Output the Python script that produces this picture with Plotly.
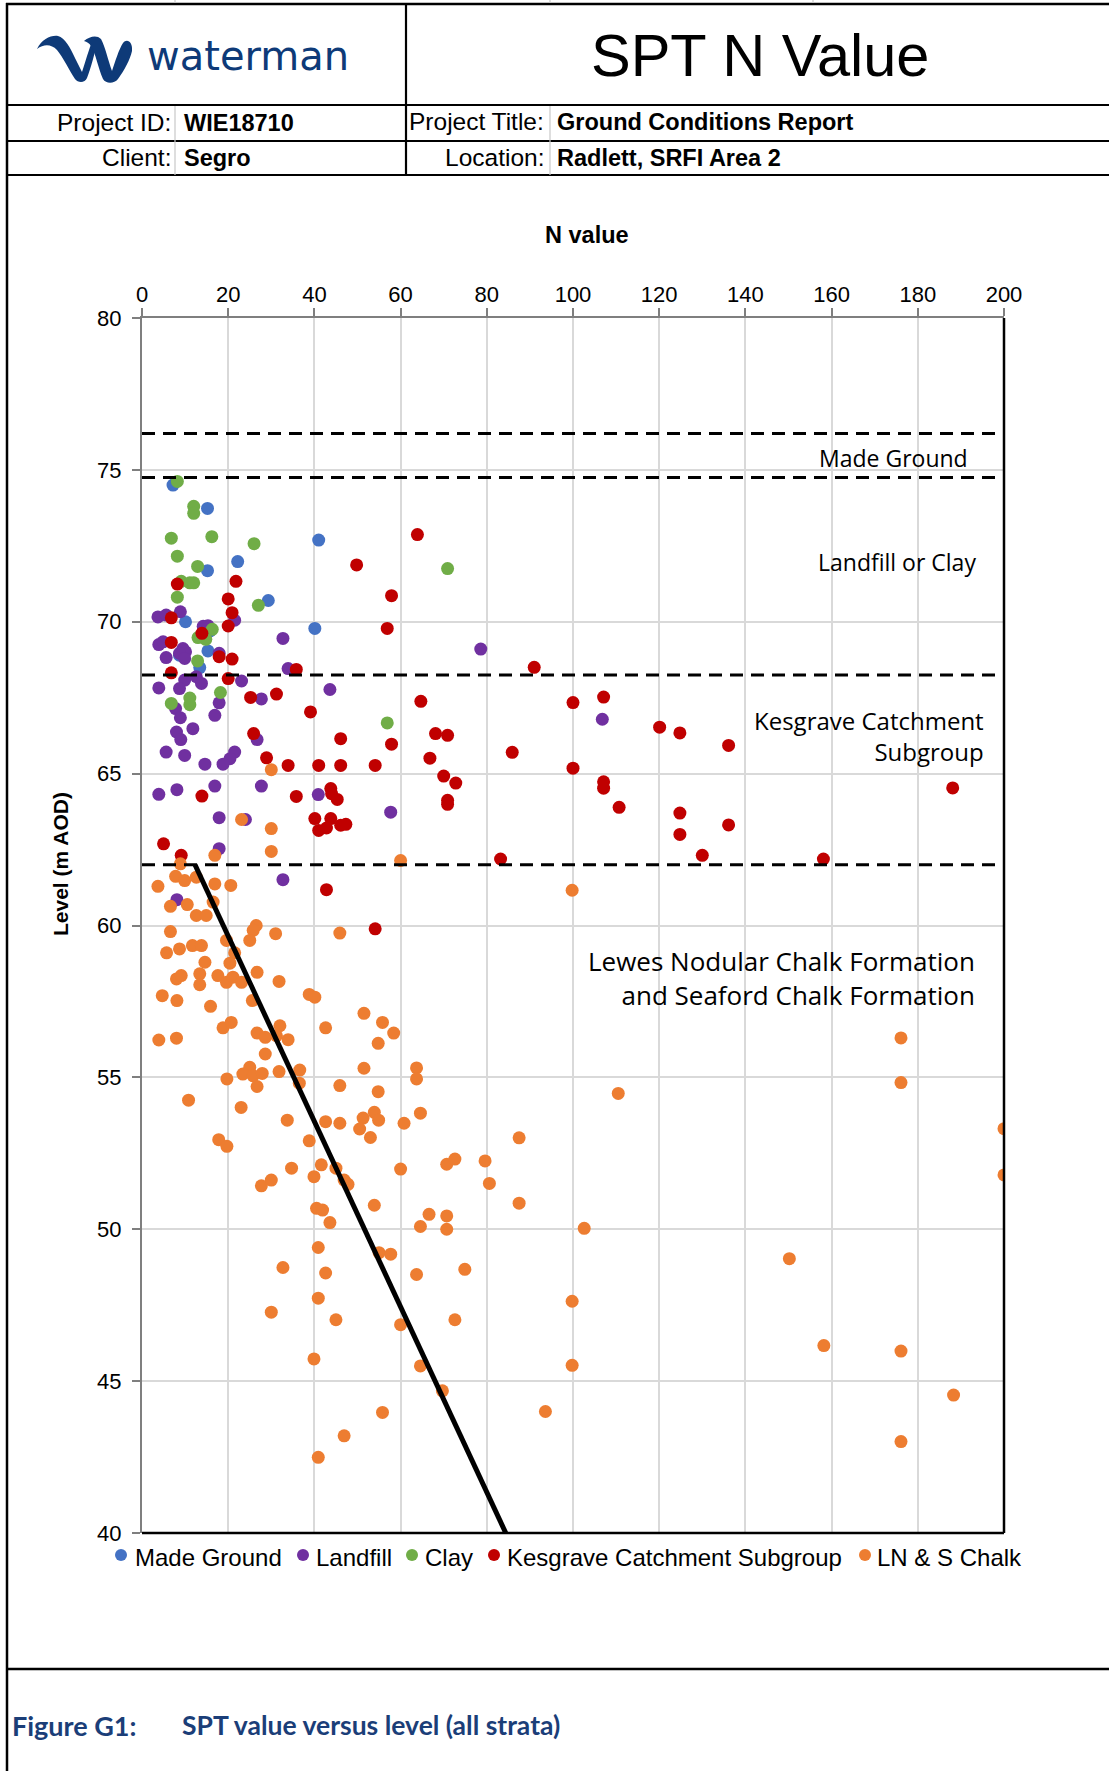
import plotly.graph_objects as go

# ---------------- DATA ----------------
made_ground_n = [7.2, 15.2, 41.0, 15.2, 22.2, 29.3, 10.1, 40.1, 15.8, 15.3, 8.7, 13.4]
made_ground_lvl = [74.50, 73.73, 72.69, 71.68, 71.98, 70.70, 70.00, 69.78, 69.70, 69.04, 68.90, 68.49]

landfill_n = [3.7, 5.6, 8.9, 21.5, 14.2, 15.3, 32.7, 78.6, 3.9, 4.9, 9.5, 10.1, 8.7, 17.9, 5.6,
              9.9, 33.9, 9.9, 12.6, 13.8, 8.7, 23.1, 3.9, 43.6, 27.7, 17.9, 7.8, 16.9, 8.9, 106.8,
              8.0, 9.0, 11.8, 26.7, 5.6, 9.9, 21.5, 20.4, 18.8, 14.6, 3.9, 8.1, 16.9, 27.7, 40.9,
              17.9, 24.0, 57.7, 17.9, 32.7, 8.1]
landfill_lvl = [70.16, 70.22, 70.33, 70.05, 69.85, 69.87, 69.45, 69.10, 69.25, 69.34, 69.12, 69.01, 68.96, 68.96, 68.82,
                68.79, 68.46, 68.08, 68.19, 67.97, 67.80, 68.05, 67.82, 67.77, 67.46, 67.33, 67.14, 66.92, 66.84, 66.79,
                66.37, 66.12, 66.48, 66.12, 65.71, 65.60, 65.71, 65.49, 65.31, 65.31, 64.32, 64.47, 64.59, 64.59, 64.31,
                63.55, 63.49, 63.73, 62.53, 61.51, 60.85]

clay_n = [8.2, 12.0, 12.0, 6.8, 16.2, 26.0, 8.2, 12.9, 70.9, 9.1, 11.1, 12.0, 8.2, 27.0, 16.3,
          13.0, 14.8, 12.9, 18.2, 11.1, 11.1, 6.8, 56.9]
clay_lvl = [74.62, 73.80, 73.57, 72.75, 72.80, 72.57, 72.16, 71.82, 71.75, 71.33, 71.28, 71.28, 70.81, 70.54, 69.75,
            69.48, 69.42, 68.71, 67.67, 67.49, 67.27, 67.31, 66.67]

kesgrave_n = [63.9, 49.8, 8.2, 21.8, 57.9, 20.0, 20.9, 6.8, 20.0, 56.9, 13.9, 6.8, 17.9, 20.9, 35.8,
              6.8, 20.0, 25.2, 31.2, 39.1, 64.7, 25.9, 46.1, 68.1, 70.9, 57.9, 28.9, 33.9, 41.0, 46.1,
              54.1, 66.8, 70.0, 72.8, 70.9, 70.9, 13.9, 35.8, 43.8, 44.0, 45.3, 40.1, 43.8, 41.0, 42.8,
              46.1, 47.3, 5.0, 9.1, 42.8, 54.1, 91.0, 100.0, 107.1, 120.1, 124.8, 136.1, 85.9, 100.0, 107.1,
              107.1, 110.7, 124.8, 136.1, 124.8, 130.0, 158.1, 83.2, 188.1]
kesgrave_lvl = [72.87, 71.87, 71.24, 71.33, 70.86, 70.75, 70.30, 70.13, 69.86, 69.78, 69.62, 69.32, 68.85, 68.77, 68.43,
                68.32, 68.13, 67.51, 67.62, 67.03, 67.38, 66.32, 66.15, 66.32, 66.26, 65.97, 65.52, 65.27, 65.27, 65.27,
                65.27, 65.51, 64.92, 64.69, 64.12, 63.99, 64.26, 64.25, 64.51, 64.34, 64.15, 63.52, 63.52, 63.13, 63.21,
                63.30, 63.33, 62.69, 62.31, 61.18, 59.89, 68.50, 67.34, 67.52, 66.53, 66.34, 65.93, 65.70, 65.18, 64.73,
                64.52, 63.89, 63.70, 63.31, 63.00, 62.31, 62.19, 62.19, 64.53]

chalk_n = [30.0, 23.1, 30.0, 16.9, 30.0, 60.0, 8.9, 7.8, 9.9, 12.6, 16.9, 20.6, 3.7, 6.6, 10.5,
           16.5, 12.6, 14.9, 6.6, 45.9, 26.5, 25.8, 31.0, 99.8,
           19.6, 25.0, 5.7, 8.7, 11.7, 13.8, 21.5, 20.4, 14.6, 26.7, 13.4, 13.4, 8.0, 9.1, 17.6,
           19.6, 21.1, 23.1, 31.8, 4.7, 8.1, 38.8, 40.1, 25.6, 15.9, 51.5, 55.8, 58.4, 54.8, 42.6,
           18.8, 20.7, 32.0, 26.7, 28.6, 33.9, 31.2, 3.9, 8.0, 28.6, 25.0, 23.4, 25.8, 27.9, 26.7,
           31.8, 36.6, 36.5, 19.7, 51.5, 63.7, 63.7, 45.9, 54.8, 10.8, 23.0, 64.6, 53.9, 51.3, 54.9,
           33.7, 42.6, 45.9, 60.8, 50.5, 53.0, 38.8, 17.8, 19.7, 70.7, 72.6, 79.6, 80.6, 41.6, 45.0,
           34.7, 39.9, 46.9, 47.8, 60.0, 27.7, 30.0, 40.5, 41.9, 53.9, 43.6, 66.6, 70.7, 70.7,
           64.6, 40.9, 55.0, 57.7,
           87.5, 87.5, 176.1, 176.1, 110.5, 200.0, 200.0, 102.6, 150.2, 99.8, 158.2, 176.1, 99.8,
           188.3, 93.6, 176.1,
           32.7, 42.6, 63.7, 74.9, 40.9, 30.0, 45.0, 60.0, 72.6, 39.9, 64.6, 69.7, 55.8, 46.9, 40.9]
chalk_lvl = [65.13, 63.49, 63.19, 62.31, 62.44, 62.14, 62.03, 61.62, 61.48, 61.59, 61.37, 61.32, 61.29, 60.63, 60.69,
             60.77, 60.33, 60.33, 59.80, 59.75, 60.00, 59.84, 59.73, 61.16,
             59.51, 59.51, 59.10, 59.23, 59.34, 59.34, 59.10, 58.76, 58.79, 58.46, 58.41, 58.05, 58.24, 58.35, 58.35,
             58.13, 58.30, 58.13, 58.16, 57.69, 57.53, 57.73, 57.64, 57.53, 57.34, 57.11, 56.81, 56.46, 56.12, 56.63,
             56.63, 56.81, 56.70, 56.46, 56.32, 56.24, 56.37, 56.23, 56.29, 55.77, 55.33, 55.11, 55.05, 55.13, 54.70,
             55.19, 55.24, 54.81, 54.95, 55.30, 55.31, 54.95, 54.73, 54.53, 54.25, 54.01, 53.82, 53.85, 53.66, 53.59,
             53.59, 53.54, 53.49, 53.49, 53.30, 53.02, 52.91, 52.95, 52.73, 52.14, 52.31, 52.25, 51.51, 52.12, 52.01,
             52.01, 51.73, 51.62, 51.48, 51.98, 51.43, 51.62, 50.69, 50.63, 50.79, 50.22, 50.49, 50.44, 50.00,
             50.09, 49.40, 49.23, 49.18,
             53.01, 50.86, 56.30, 54.83, 54.47, 53.31, 51.79, 50.03, 49.03, 47.63, 46.17, 45.99, 45.52,
             44.54, 44.00, 43.01,
             48.74, 48.56, 48.51, 48.68, 47.73, 47.27, 47.02, 46.86, 47.02, 45.73, 45.50, 44.68, 43.97, 43.20, 42.49]

trend_n = [12.3, 84.4]
trend_lvl = [62.0, 40.0]

strata_boundaries = [76.2, 74.75, 68.25, 62.0]

series_names = ["Made Ground", "Landfill", "Clay", "Kesgrave Catchment Subgroup", "LN & S Chalk"]
series_colors = ["#4472C4", "#7030A0", "#70AD47", "#C00000", "#ED7D31"]
series_x = [made_ground_n, landfill_n, clay_n, kesgrave_n, chalk_n]
series_y = [made_ground_lvl, landfill_lvl, clay_lvl, kesgrave_lvl, chalk_lvl]

x_ticks = list(range(0, 201, 20))
y_ticks = list(range(40, 81, 5))

# ---------------- LAYOUT GEOMETRY ----------------
W, H = 1109, 1771
LM, RM, TM, BM = 142, 105, 318, 238
PW = W - LM - RM
PH = H - TM - BM


def px(x):
    return (x - LM) / PW


def py(y):
    return (H - BM - y) / PH


ARIAL = "Liberation Sans, Arial, sans-serif"
OPEN = "Open Sans, sans-serif"
NAVY = "#1B3E78"

fig = go.Figure()

for name, col, xs, ys in zip(series_names, series_colors, series_x, series_y):
    fig.add_trace(go.Scatter(x=xs, y=ys, mode="markers", name=name, showlegend=False,
                             marker=dict(size=13, color=col, line=dict(width=0))))

for b in strata_boundaries:
    fig.add_trace(go.Scatter(x=[0, 200], y=[b, b], mode="lines", showlegend=False,
                             line=dict(color="black", width=3, dash="13px,8px"), hoverinfo="skip"))

fig.add_trace(go.Scatter(x=trend_n, y=trend_lvl, mode="lines", showlegend=False,
                         line=dict(color="black", width=5), hoverinfo="skip"))

shapes = []


def hline(y, x0, x1, color="black", width=2.5):
    shapes.append(dict(type="line", xref="paper", yref="paper", x0=px(x0), x1=px(x1), y0=py(y), y1=py(y),
                       line=dict(color=color, width=width)))


def vline(x, y0, y1, color="black", width=2.5):
    shapes.append(dict(type="line", xref="paper", yref="paper", x0=px(x), x1=px(x), y0=py(y0), y1=py(y1),
                       line=dict(color=color, width=width)))


# header frame
hline(4, 6, W)
vline(7, 3, H)
vline(406, 4, 175, width=2.2)
hline(105, 6, W, width=2.2)
hline(141, 6, W, width=2.2)
hline(175, 6, W, width=2.2)
vline(175, 106, 175, color="#C8C8C8", width=1.2)
vline(550, 106, 175, color="#C8C8C8", width=1.2)
for xx in [175, 550, 813]:
    vline(xx, 0, 3, color="#C8C8C8", width=1.2)
# footer
hline(1669, 6, W, width=2.5)

# plot frame: right & bottom black
shapes.append(dict(type="line", xref="paper", yref="paper", x0=1, x1=1, y0=0, y1=1,
                   line=dict(color="black", width=2.5)))
shapes.append(dict(type="line", xref="paper", yref="paper", x0=0, x1=1, y0=0, y1=0,
                   line=dict(color="black", width=2.5)))


def path_from(cmds):
    out = []
    for c, pts in cmds:
        s = c
        for (x, y) in pts:
            s += " %.5f,%.5f" % (px(x), py(y))
        out.append(s)
    return " ".join(out) + " Z"


LOGO = "#0E3A78"
logo_a = [("M", [(37, 49)]),
          ("C", [(42, 39), (51, 35), (58, 36)]),
          ("C", [(65, 38), (70, 47), (75, 58)]),
          ("L", [(82, 72)]),
          ("C", [(85, 63), (89, 49), (93, 39)]),
          ("L", [(98, 39)]),
          ("C", [(95, 52), (91, 68), (87, 78)]),
          ("C", [(85, 83), (78, 83), (75, 79)]),
          ("C", [(69, 70), (63, 57), (57, 50)]),
          ("C", [(51, 44), (44, 44), (37, 49)])]
logo_b = [("M", [(84, 41)]),
          ("C", [(90, 36), (97, 35), (101, 39)]),
          ("C", [(105, 46), (108, 60), (112, 71)]),
          ("C", [(115, 62), (119, 49), (123, 43)]),
          ("C", [(127, 38), (133, 42), (132, 51)]),
          ("C", [(130, 60), (124, 71), (118, 79)]),
          ("C", [(114, 84), (106, 84), (103, 79)]),
          ("C", [(98, 68), (96, 54), (91, 46)]),
          ("C", [(89, 43), (87, 42), (84, 41)])]
for p in (logo_a, logo_b):
    shapes.append(dict(type="path", xref="paper", yref="paper", path=path_from(p),
                       fillcolor=LOGO, line=dict(width=0)))

ann = []


def text(x, y, s, size, xanchor="left", font=ARIAL, color="black", bold=False, textangle=0):
    if bold:
        s = "<b>" + s + "</b>"
    ann.append(dict(x=px(x), y=py(y), xref="paper", yref="paper", text=s, showarrow=False,
                    xanchor=xanchor, yanchor="middle", textangle=textangle,
                    font=dict(family=font, size=size, color=color)))


text(145, 56, "waterman", 40, font="DejaVu Sans, sans-serif", color=LOGO)
text(760, 56, "SPT N Value", 59.5, xanchor="center")
text(173, 123, "Project ID:", 24.5, xanchor="right")
text(182, 123, "WIE18710", 23.5, bold=True)
text(173, 158, "Client:", 24.5, xanchor="right")
text(182, 158, "Segro", 23.5, bold=True)
text(546, 122, "Project Title:", 24.5, xanchor="right")
text(555, 122, "Ground Conditions Report", 23.5, bold=True)
text(546, 158, "Location:", 24.5, xanchor="right")
text(555, 158, "Radlett, SRFI Area 2", 23.5, bold=True)
text(587, 235, "N value", 23.5, xanchor="center", bold=True)
text(60, 864, "Level (m AOD)", 21, xanchor="center", bold=True, textangle=-90)
text(10, 1725, "Figure G1:", 27, font="Lato, sans-serif", color=NAVY, bold=True)
text(180, 1725, "SPT value versus level (all strata)", 26.5, font="Lato, sans-serif", color=NAVY, bold=True)

# custom legend (symbol + label), one per series
legend_marker_x = [121, 303, 412, 494, 865]
legend_text_x = [133, 314, 423, 505, 875]
for name, col, mx, tx in zip(series_names, series_colors, legend_marker_x, legend_text_x):
    r = 6.0
    shapes.append(dict(type="circle", xref="paper", yref="paper", x0=px(mx - r), x1=px(mx + r),
                       y0=py(1555 + r), y1=py(1555 - r), fillcolor=col, line=dict(width=0)))
    text(tx, 1557, name, 24)

# strata labels (data coordinates)
strata_labels = [("Made Ground", 192.0, 75.38, 23), ("Landfill or Clay", 194.0, 71.98, 23),
                 ("Kesgrave Catchment<br>Subgroup", 195.8, 66.25, 24),
                 ("Lewes Nodular Chalk Formation<br>and Seaford Chalk Formation", 193.8, 58.26, 26)]
for s, xv, yv, fs in strata_labels:
    ann.append(dict(x=xv, y=yv, xref="x", yref="y", text=s, showarrow=False, xanchor="right",
                    yanchor="middle", align="right", font=dict(family=OPEN, size=fs, color="black")))

fig.update_layout(
    width=W, height=H, autosize=False,
    margin=dict(l=LM, r=RM, t=TM, b=BM, pad=0),
    paper_bgcolor="white", plot_bgcolor="white",
    shapes=shapes, annotations=ann, showlegend=False,
    xaxis=dict(range=[0, 200], side="top", tickvals=x_ticks, showgrid=True, gridcolor="#D9D9D9",
               gridwidth=1.5, showline=True, linecolor="#7F7F7F", linewidth=2, ticks="outside",
               ticklen=8, tickwidth=1.5, tickcolor="#7F7F7F", zeroline=False,
               tickfont=dict(family=ARIAL, size=22, color="black"), ticklabelstandoff=-3),
    yaxis=dict(range=[40, 80], tickvals=y_ticks, showgrid=True, gridcolor="#D9D9D9", gridwidth=1.5,
               showline=True, linecolor="#7F7F7F", linewidth=2, ticks="outside", ticklen=8,
               tickwidth=1.5, tickcolor="#7F7F7F", zeroline=False,
               tickfont=dict(family=ARIAL, size=22, color="black"), ticklabelstandoff=6),
    hovermode=False,
)

fig.write_html("out.html", config={"displayModeBar": False},
               post_script="document.body.style.margin='0';document.body.style.overflow='hidden';")
